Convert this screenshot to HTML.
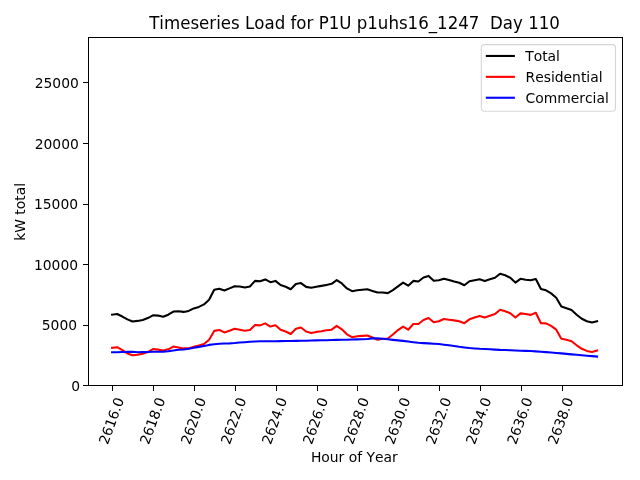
<!DOCTYPE html>
<html><head><meta charset="utf-8"><title>Timeseries Load</title>
<style>
html,body{margin:0;padding:0;background:#fff;}
body{width:640px;height:480px;overflow:hidden;}
svg{display:block;}
text{font-family:"DejaVu Sans","Liberation Sans",sans-serif;fill:#000;font-kerning:none;}
.t10{font-size:13.889px;}
.t12{font-size:16.667px;}
.ln{fill:none;stroke-width:2.083;stroke-linejoin:round;stroke-linecap:square;}
</style></head><body>
<svg width="640" height="480" viewBox="0 0 640 480">
<rect x="0" y="0" width="640" height="480" fill="#ffffff"/>
<path class="ln" stroke="#000000" d="M112.10 314.70 L117.20 314.05 L122.31 316.55 L127.41 319.40 L132.52 321.55 L137.62 320.90 L142.73 319.90 L147.83 318.05 L152.94 315.30 L158.05 315.60 L163.15 316.80 L168.25 314.70 L173.36 311.55 L178.47 311.25 L183.57 311.90 L188.68 310.90 L193.78 308.40 L198.88 306.90 L203.99 304.40 L209.09 299.70 L214.20 289.70 L219.31 288.80 L224.41 290.55 L229.51 288.40 L234.62 286.20 L239.73 286.55 L244.83 287.55 L249.94 286.55 L255.04 280.90 L260.14 281.30 L265.25 279.40 L270.36 282.20 L275.46 280.90 L280.56 285.05 L285.67 286.80 L290.77 289.30 L295.88 284.05 L300.99 283.05 L306.09 286.90 L311.20 287.80 L316.30 286.80 L321.40 285.90 L326.51 284.90 L331.62 283.80 L336.72 280.05 L341.83 283.40 L346.93 288.40 L352.04 291.20 L357.14 290.30 L362.25 289.80 L367.35 289.30 L372.46 290.90 L377.56 292.55 L382.66 292.55 L387.77 293.10 L392.88 290.05 L397.98 286.30 L403.09 282.55 L408.19 285.70 L413.30 280.90 L418.40 281.55 L423.50 277.55 L428.61 275.90 L433.72 280.70 L438.82 280.30 L443.93 278.70 L449.03 280.05 L454.13 281.55 L459.24 282.80 L464.35 285.30 L469.45 281.30 L474.56 280.30 L479.66 279.30 L484.76 280.90 L489.87 279.30 L494.98 277.80 L500.08 273.80 L505.19 275.30 L510.29 277.80 L515.39 282.55 L520.50 278.80 L525.61 279.70 L530.71 280.30 L535.82 279.05 L540.92 289.05 L546.02 290.30 L551.13 293.40 L556.24 297.80 L561.34 306.55 L566.45 308.20 L571.55 310.05 L576.66 314.70 L581.76 318.70 L586.87 321.20 L591.97 322.40 L597.08 321.30"/>
<path class="ln" stroke="#ff0000" d="M112.10 347.80 L117.20 347.20 L122.31 350.05 L127.41 353.40 L132.52 355.30 L137.62 354.70 L142.73 353.80 L147.83 352.05 L152.94 349.05 L158.05 349.65 L163.15 350.55 L168.25 349.30 L173.36 346.55 L178.47 347.45 L183.57 348.40 L188.68 348.40 L193.78 346.80 L198.88 345.55 L203.99 344.05 L209.09 339.70 L214.20 330.90 L219.31 330.05 L224.41 332.40 L229.51 330.70 L234.62 328.80 L239.73 329.70 L244.83 330.70 L249.94 330.05 L255.04 325.05 L260.14 325.40 L265.25 323.40 L270.36 326.55 L275.46 325.30 L280.56 329.70 L285.67 331.55 L290.77 334.05 L295.88 328.80 L300.99 327.55 L306.09 331.55 L311.20 333.05 L316.30 331.90 L321.40 331.20 L326.51 330.30 L331.62 329.70 L336.72 325.90 L341.83 329.30 L346.93 334.30 L352.04 337.20 L357.14 336.30 L362.25 335.90 L367.35 335.55 L372.46 337.55 L377.56 339.70 L382.66 338.80 L387.77 338.50 L392.88 334.55 L397.98 330.05 L403.09 326.55 L408.19 329.70 L413.30 324.05 L418.40 324.05 L423.50 320.05 L428.61 318.05 L433.72 322.30 L438.82 321.30 L443.93 319.05 L449.03 319.70 L454.13 320.40 L459.24 321.20 L464.35 323.20 L469.45 319.30 L474.56 317.55 L479.66 315.90 L484.76 317.40 L489.87 315.70 L494.98 314.05 L500.08 309.70 L505.19 311.20 L510.29 313.20 L515.39 317.55 L520.50 313.40 L525.61 314.05 L530.71 314.90 L535.82 312.80 L540.92 323.20 L546.02 323.40 L551.13 325.90 L556.24 329.70 L561.34 338.80 L566.45 339.70 L571.55 341.20 L576.66 345.30 L581.76 348.80 L586.87 350.90 L591.97 351.90 L597.08 350.55"/>
<path class="ln" stroke="#0000ff" d="M112.10 352.20 L117.20 352.20 L122.31 352.05 L127.41 351.90 L132.52 351.80 L137.62 352.20 L142.73 352.10 L147.83 351.95 L152.94 351.80 L158.05 351.70 L163.15 351.60 L168.25 351.20 L173.36 350.45 L178.47 349.70 L183.57 349.45 L188.68 348.80 L193.78 347.80 L198.88 346.90 L203.99 345.90 L209.09 344.90 L214.20 344.30 L219.31 343.80 L224.41 343.55 L229.51 343.40 L234.62 343.05 L239.73 342.55 L244.83 342.20 L249.94 341.80 L255.04 341.55 L260.14 341.30 L265.25 341.30 L270.36 341.25 L275.46 341.20 L280.56 341.12 L285.67 341.05 L290.77 340.98 L295.88 340.90 L300.99 340.80 L306.09 340.70 L311.20 340.55 L316.30 340.40 L321.40 340.30 L326.51 340.20 L331.62 340.05 L336.72 339.90 L341.83 339.80 L346.93 339.70 L352.04 339.55 L357.14 339.40 L362.25 339.23 L367.35 339.05 L372.46 338.40 L377.56 338.20 L382.66 338.80 L387.77 339.30 L392.88 339.90 L397.98 340.40 L403.09 340.90 L408.19 341.55 L413.30 342.18 L418.40 342.80 L423.50 343.10 L428.61 343.40 L433.72 343.73 L438.82 344.05 L443.93 344.68 L449.03 345.30 L454.13 346.05 L459.24 346.80 L464.35 347.43 L469.45 348.05 L474.56 348.43 L479.66 348.80 L484.76 349.05 L489.87 349.30 L494.98 349.60 L500.08 349.90 L505.19 350.05 L510.29 350.20 L515.39 350.45 L520.50 350.70 L525.61 350.88 L530.71 351.05 L535.82 351.38 L540.92 351.70 L546.02 352.12 L551.13 352.55 L556.24 352.98 L561.34 353.40 L566.45 353.88 L571.55 354.35 L576.66 354.82 L581.76 355.30 L586.87 355.72 L591.97 356.13 L597.08 356.55"/>
<g fill="#000" shape-rendering="crispEdges"><rect x="88" y="37" width="1" height="349"/><rect x="622" y="37" width="1" height="349"/><rect x="88" y="37" width="535" height="1"/><rect x="88" y="385" width="535" height="1"/><rect x="83" y="385" width="5.5" height="1"/><rect x="83" y="325" width="5.5" height="1"/><rect x="83" y="264" width="5.5" height="1"/><rect x="83" y="204" width="5.5" height="1"/><rect x="83" y="143" width="5.5" height="1"/><rect x="83" y="82" width="5.5" height="1"/><rect x="112" y="385" width="1" height="6"/><rect x="153" y="385" width="1" height="6"/><rect x="194" y="385" width="1" height="6"/><rect x="235" y="385" width="1" height="6"/><rect x="276" y="385" width="1" height="6"/><rect x="317" y="385" width="1" height="6"/><rect x="357" y="385" width="1" height="6"/><rect x="398" y="385" width="1" height="6"/><rect x="439" y="385" width="1" height="6"/><rect x="480" y="385" width="1" height="6"/><rect x="521" y="385" width="1" height="6"/><rect x="562" y="385" width="1" height="6"/></g>
<text class="t10" text-anchor="end" x="80.05" y="390.70">0</text><text class="t10" text-anchor="end" x="77.05" y="329.70">5000</text><text class="t10" text-anchor="end" x="78.05" y="269.70">10000</text><text class="t10" text-anchor="end" x="78.05" y="208.70">15000</text><text class="t10" text-anchor="end" x="78.8" y="148.70">20000</text><text class="t10" text-anchor="end" x="78.8" y="87.70">25000</text>
<text class="t10" text-anchor="middle" transform="translate(111.30,420.8) rotate(-70)" y="5.05">2616.0</text><text class="t10" text-anchor="middle" transform="translate(152.38,420.8) rotate(-70)" y="5.05">2618.0</text><text class="t10" text-anchor="middle" transform="translate(193.27,420.8) rotate(-70)" y="5.05">2620.0</text><text class="t10" text-anchor="middle" transform="translate(233.35,420.8) rotate(-70)" y="5.05">2622.0</text><text class="t10" text-anchor="middle" transform="translate(274.24,420.8) rotate(-70)" y="5.05">2624.0</text><text class="t10" text-anchor="middle" transform="translate(315.22,420.8) rotate(-70)" y="5.05">2626.0</text><text class="t10" text-anchor="middle" transform="translate(356.30,420.8) rotate(-70)" y="5.05">2628.0</text><text class="t10" text-anchor="middle" transform="translate(397.39,420.8) rotate(-70)" y="5.05">2630.0</text><text class="t10" text-anchor="middle" transform="translate(438.37,420.8) rotate(-70)" y="5.05">2632.0</text><text class="t10" text-anchor="middle" transform="translate(478.36,420.8) rotate(-70)" y="5.05">2634.0</text><text class="t10" text-anchor="middle" transform="translate(519.64,420.8) rotate(-70)" y="5.05">2636.0</text><text class="t10" text-anchor="middle" transform="translate(560.42,420.8) rotate(-70)" y="5.05">2638.0</text>
<text class="t12" transform="translate(149.2,28.9) scale(0.9986,1.08)" style="white-space:pre">Timeseries Load for P1U p1uhs16_1247  Day 110</text>
<text class="t10" text-anchor="middle" letter-spacing="0" x="354.3" y="461.6">Hour of Year</text>
<text class="t10" text-anchor="middle" transform="translate(25.3,211.9) rotate(-90)">kW total</text>
<rect x="481.3" y="44.65" width="134.2" height="66.65" rx="3.2" ry="3.2" fill="#ffffff" fill-opacity="0.8" stroke="#cccccc" stroke-opacity="0.8" stroke-width="1.1"/>
<path class="ln" stroke="#000000" d="M486.85 55.95 L513.85 55.95"/><text class="t10" x="525.2" y="60.75">Total</text>
<path class="ln" stroke="#ff0000" d="M486.85 76.85 L513.85 76.85"/><text class="t10" x="525.5" y="81.65">Residential</text>
<path class="ln" stroke="#0000ff" d="M486.85 97.75 L513.85 97.75"/><text class="t10" x="525.5" y="102.55">Commercial</text>
</svg>
</body></html>
